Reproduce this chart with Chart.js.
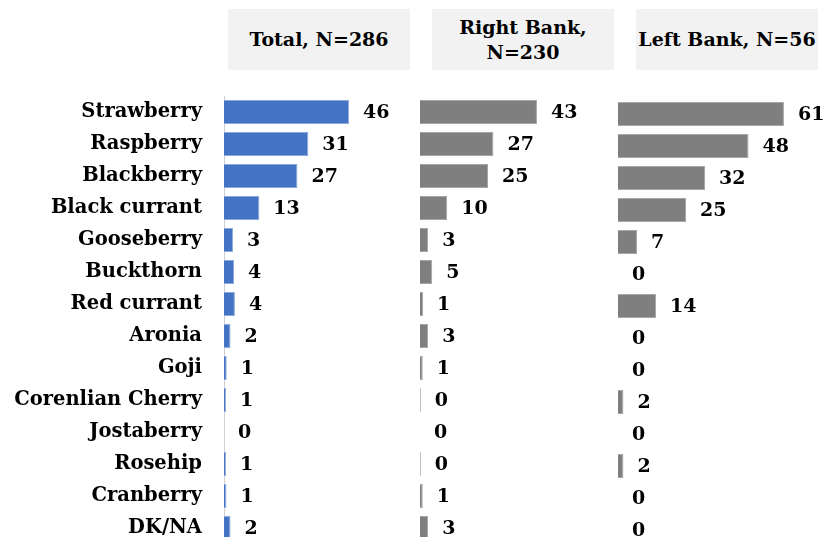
<!DOCTYPE html>
<html>
<head>
<meta charset="utf-8">
<script src="https://cdn.jsdelivr.net/npm/chart.js@4/dist/chart.umd.min.js"></script>
<style>
  html, body { margin: 0; padding: 0; background: #fff; overflow: hidden; }
  #wrap { position: relative; width: 825px; height: 537px; overflow: hidden; }
  .head {
    position: absolute; top: 9px; height: 61px; width: 182px;
    background: #f2f2f2; display: flex; align-items: center; justify-content: center;
    text-align: center; font-family: "DejaVu Serif", serif; font-weight: bold;
    font-size: 19px; line-height: 25px; color: #000;
  }
  canvas { position: absolute; top: 96px; }
</style>
</head>
<body>
<div id="wrap">
  <div class="head" style="left:228px;">Total, N=286</div>
  <div class="head" style="left:432px;">Right Bank,<br>N=230</div>
  <div class="head" style="left:636px;">Left Bank, N=56</div>

  <canvas id="cTotal" width="420" height="448" style="left:0px;"></canvas>
  <canvas id="cRight" width="198" height="448" style="left:420px;"></canvas>
  <canvas id="cLeft" width="207" height="448" style="left:618px; top:98px;"></canvas>
</div>

<script>
// categorias
var berries = ['Strawberry', 'Raspberry', 'Blackberry', 'Black currant', 'Gooseberry', 'Buckthorn',
  'Red currant', 'Aronia', 'Goji', 'Corenlian Cherry', 'Jostaberry', 'Rosehip', 'Cranberry', 'DK/NA'];

// percentuais
var totalValues = [46, 31, 27, 13, 3.3, 3.7, 4, 2.4, 1, 0.7, 0, 0.7, 0.9, 2.4];
var rightValues = [43, 27, 25, 10, 3, 4.5, 1.1, 3, 1, 0.3, 0, 0.3, 1, 3];
var leftValues = [61, 48, 32, 25, 7, 0, 14, 0, 0, 2, 0, 2, 0, 0];

var PX_PER_UNIT = 2.72;
var LABEL_WIDTH = 224;

Chart.defaults.font.family = '"DejaVu Serif", serif';
Chart.defaults.font.weight = 'bold';
Chart.defaults.font.size = 19;
Chart.defaults.color = '#000';

// rótulos de valor à direita das barras
var valueLabels = {
  id: 'valueLabels',
  afterDatasetsDraw: function(chart) {
    var ctx = chart.ctx;
    var data = chart.data.datasets[0].data;
    ctx.save();
    ctx.font = 'bold 19px "DejaVu Serif", serif';
    ctx.fillStyle = '#000';
    ctx.textAlign = 'left';
    ctx.textBaseline = 'middle';
    chart.getDatasetMeta(0).data.forEach(function(bar, i) {
      ctx.fillText(String(Math.round(data[i])), bar.x + 14, bar.y + 1);
    });
    ctx.restore();
  }
};

function makeChart(id, values, color, edge, showLabels) {
  var canvas = document.getElementById(id);
  var areaWidth = canvas.width - (showLabels ? LABEL_WIDTH : 0);
  var yAxis = {
    display: showLabels,
    grid: { display: false, drawTicks: false },
    border: { display: showLabels, color: '#d0d0d0', width: 1 },
    ticks: { padding: 22, autoSkip: false, color: '#000', font: { size: 19.5, weight: 'bold' } }
  };
  if (showLabels) {
    yAxis.afterFit = function(scale) {
      scale.width = LABEL_WIDTH;
      scale.paddingTop = 0;
      scale.paddingBottom = 0;
    };
  }
  return new Chart(canvas.getContext('2d'), {
    type: 'bar',
    data: {
      labels: berries,
      datasets: [{
        data: values,
        backgroundColor: color,
        borderColor: edge,
        borderWidth: 1,
        barPercentage: 0.75,
        categoryPercentage: 1
      }]
    },
    options: {
      indexAxis: 'y',
      responsive: false,
      animation: false,
      layout: { padding: 0 },
      plugins: { legend: { display: false }, tooltip: { enabled: false } },
      scales: {
        x: { display: false, min: 0, max: areaWidth / PX_PER_UNIT },
        y: yAxis
      }
    },
    plugins: [valueLabels]
  });
}

makeChart('cTotal', totalValues, '#4472c4', '#8faadc', true);
makeChart('cRight', rightValues, '#7f7f7f', '#a6a6a6', false);
makeChart('cLeft', leftValues, '#7f7f7f', '#a6a6a6', false);
</script>
</body>
</html>
